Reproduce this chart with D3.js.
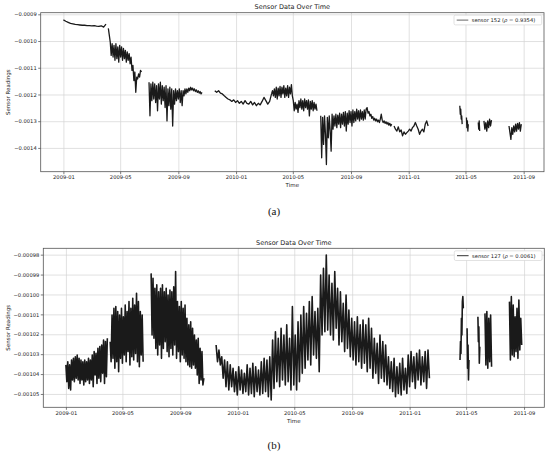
<!DOCTYPE html>
<html>
<head>
<meta charset="utf-8">
<script src="https://cdn.jsdelivr.net/npm/d3@7"></script>
<style>
  body { margin: 0; background: #fff; }
  svg text { font-family: "DejaVu Sans", sans-serif; fill: #222; }
  .caption { font-family: "Liberation Serif", "DejaVu Serif", serif; }
</style>
</head>
<body>
<svg id="chart" width="550" height="456"></svg>
<script>
// Shared time axis
const xTickLabels = ['2009-01', '2009-05', '2009-09', '2010-01', '2010-05', '2010-09', '2011-01', '2011-05', '2011-09'];
const xDomainDays = ['2008-11-14', '2011-10-14'];

// Panel (a): sensor 152
const yTicks152 = [-0.0014, -0.0013, -0.0012, -0.0011, -0.0010, -0.0009];
const yDomain152 = [-0.001489, -0.000894];
const legend152 = ['sensor 152 (', '\u03c1', ' = 0.9354)'];

// Each segment: first date, sampling step in days, readings (gaps between segments)
const sensor152 = [
  { start: '2009-01-01', step: 5, values: [-0.000921, -0.000926, -0.000930, -0.000934, -0.000936, -0.000938, -0.000939, -0.000940, -0.000941, -0.000941, -0.000942, -0.000942, -0.000943, -0.000942, -0.000944, -0.000945, -0.000943, -0.000948, -0.000937] },
  { start: '2009-04-06', step: 2, values: [-0.000953, -0.000978, -0.001003, -0.001054, -0.001010, -0.001060, -0.001016, -0.001072, -0.001010, -0.001066, -0.001022, -0.001079, -0.001016, -0.001060, -0.001022, -0.001072, -0.001028, -0.001066, -0.001035, -0.001079, -0.001041, -0.001072, -0.001047, -0.001085, -0.001060, -0.001110, -0.001091, -0.001148, -0.001116, -0.001192, -0.001135, -0.001142, -0.001123, -0.001135, -0.001110, -0.001116] },
  { start: '2009-07-01', step: 2, values: [-0.001154, -0.001280, -0.001160, -0.001223, -0.001154, -0.001217, -0.001160, -0.001230, -0.001167, -0.001261, -0.001160, -0.001217, -0.001154, -0.001236, -0.001167, -0.001223, -0.001173, -0.001249, -0.001167, -0.001299, -0.001179, -0.001242, -0.001173, -0.001255, -0.001179, -0.001318, -0.001186, -0.001236, -0.001179, -0.001223, -0.001186, -0.001217, -0.001179, -0.001230, -0.001186, -0.001242, -0.001186, -0.001205, -0.001179, -0.001198, -0.001179, -0.001192, -0.001176, -0.001186, -0.001173, -0.001183, -0.001176, -0.001186, -0.001179, -0.001189, -0.001183, -0.001192, -0.001186, -0.001195, -0.001189, -0.001198, -0.001192] },
  { start: '2009-11-17', step: 4, values: [-0.001186, -0.001192, -0.001186, -0.001195, -0.001198, -0.001205, -0.001211, -0.001217, -0.001220, -0.001226, -0.001220, -0.001230, -0.001223, -0.001233, -0.001226, -0.001236, -0.001223, -0.001233, -0.001236, -0.001226, -0.001239, -0.001230, -0.001242, -0.001233, -0.001239, -0.001226, -0.001211, -0.001223, -0.001236, -0.001226, -0.001198] },
  { start: '2010-03-17', step: 2, values: [-0.001198, -0.001186, -0.001205, -0.001179, -0.001211, -0.001173, -0.001217, -0.001176, -0.001205, -0.001170, -0.001211, -0.001173, -0.001198, -0.001167, -0.001211, -0.001176, -0.001205, -0.001167, -0.001211, -0.001173, -0.001198, -0.001163, -0.001205, -0.001223, -0.001261, -0.001230, -0.001255, -0.001236, -0.001267, -0.001223, -0.001249, -0.001217, -0.001255, -0.001223, -0.001261, -0.001217, -0.001249, -0.001223, -0.001255, -0.001220, -0.001280, -0.001226, -0.001255, -0.001223, -0.001261, -0.001230, -0.001255, -0.001236, -0.001261] },
  { start: '2010-06-29', step: 2, values: [-0.001280, -0.001437, -0.001286, -0.001387, -0.001280, -0.001349, -0.001462, -0.001286, -0.001362, -0.001280, -0.001337, -0.001412, -0.001274, -0.001330, -0.001280, -0.001318, -0.001274, -0.001324, -0.001277, -0.001311, -0.001270, -0.001324, -0.001274, -0.001311, -0.001267, -0.001318, -0.001264, -0.001337, -0.001270, -0.001311, -0.001261, -0.001305, -0.001264, -0.001318, -0.001258, -0.001305, -0.001264, -0.001299, -0.001255, -0.001292, -0.001261, -0.001299, -0.001258, -0.001292, -0.001264, -0.001296, -0.001258, -0.001292, -0.001255, -0.001249, -0.001270, -0.001264, -0.001280, -0.001274, -0.001289, -0.001283, -0.001296, -0.001289, -0.001299, -0.001292, -0.001302, -0.001296, -0.001305, -0.001292, -0.001274, -0.001296, -0.001305, -0.001299, -0.001308, -0.001302, -0.001311, -0.001305, -0.001315, -0.001308, -0.001318, -0.001311] },
  { start: '2010-12-01', step: 3, values: [-0.001318, -0.001330, -0.001337, -0.001321, -0.001340, -0.001333, -0.001355, -0.001340, -0.001349, -0.001343, -0.001337, -0.001330, -0.001337, -0.001324, -0.001318, -0.001305, -0.001318, -0.001330, -0.001349, -0.001337, -0.001330, -0.001340, -0.001311, -0.001299, -0.001318] },
  { start: '2011-04-19', step: 1, values: [-0.001242, -0.001274, -0.001255, -0.001292, -0.001280, -0.001311] },
  { start: '2011-05-03', step: 1, values: [-0.001286, -0.001324, -0.001299, -0.001337, -0.001311] },
  { start: '2011-05-28', step: 1, values: [-0.001305, -0.001330, -0.001299, -0.001337] },
  { start: '2011-06-09', step: 2, values: [-0.001299, -0.001330, -0.001305, -0.001337, -0.001299, -0.001324, -0.001292, -0.001318, -0.001296] },
  { start: '2011-08-01', step: 2, values: [-0.001318, -0.001343, -0.001368, -0.001324, -0.001349, -0.001318, -0.001340, -0.001311, -0.001337, -0.001308, -0.001330, -0.001305, -0.001337, -0.001311] }
];

// Panel (b): sensor 127
const yTicks127 = [-0.00105, -0.00104, -0.00103, -0.00102, -0.00101, -0.00100, -0.00099, -0.00098];
const yDomain127 = [-0.0010567, -0.0009768];
const legend127 = ['sensor 127 (', '\u03c1', ' = 0.0061)'];

const sensor127 = [
  { start: '2009-01-01', step: 2, values: [-0.0010354, -0.0010438, -0.0010338, -0.0010472, -0.0010354, -0.0010480, -0.0010329, -0.0010430, -0.0010321, -0.0010438, -0.0010313, -0.0010421, -0.0010304, -0.0010430, -0.0010321, -0.0010447, -0.0010329, -0.0010430, -0.0010338, -0.0010455, -0.0010329, -0.0010438, -0.0010338, -0.0010430, -0.0010321, -0.0010447, -0.0010329, -0.0010430, -0.0010304, -0.0010463, -0.0010287, -0.0010405, -0.0010296, -0.0010447, -0.0010271, -0.0010421, -0.0010262, -0.0010438, -0.0010254, -0.0010396, -0.0010229, -0.0010447, -0.0010237, -0.0010413, -0.0010220] },
  { start: '2009-04-05', step: 2, values: [-0.0010237, -0.0010338, -0.0010103, -0.0010321, -0.0010070, -0.0010371, -0.0010061, -0.0010338, -0.0010086, -0.0010388, -0.0010103, -0.0010321, -0.0010070, -0.0010346, -0.0010112, -0.0010304, -0.0010053, -0.0010338, -0.0010086, -0.0010287, -0.0010036, -0.0010354, -0.0010070, -0.0010313, -0.0010019, -0.0010329, -0.0010053, -0.0010296, -0.0009994, -0.0010338, -0.0010036, -0.0010363, -0.0010086, -0.0010304, -0.0010103, -0.0010338] },
  { start: '2009-07-01', step: 2, values: [-0.0009894, -0.0010204, -0.0009919, -0.0010220, -0.0009969, -0.0010271, -0.0009952, -0.0010304, -0.0009986, -0.0010254, -0.0009969, -0.0010321, -0.0009952, -0.0010271, -0.0009986, -0.0010237, -0.0009969, -0.0010287, -0.0010003, -0.0010313, -0.0009978, -0.0010271, -0.0009986, -0.0010304, -0.0009961, -0.0010254, -0.0009885, -0.0010321, -0.0010036, -0.0010287, -0.0010061, -0.0010338, -0.0010036, -0.0010304, -0.0010070, -0.0010321, -0.0010053, -0.0010338, -0.0010120, -0.0010354, -0.0010153, -0.0010363, -0.0010137, -0.0010371, -0.0010170, -0.0010354, -0.0010204, -0.0010371, -0.0010229, -0.0010405, -0.0010220, -0.0010447, -0.0010271, -0.0010430, -0.0010287, -0.0010455, -0.0010421] },
  { start: '2009-11-16', step: 3, values: [
    -0.0010254, -0.0010338, -0.0010279, -0.0010354, -0.0010313, -0.0010421, -0.0010329, -0.0010463, -0.0010338, -0.0010480,
    -0.0010354, -0.0010463, -0.0010371, -0.0010488, -0.0010388, -0.0010505, -0.0010363, -0.0010480, -0.0010380, -0.0010497,
    -0.0010396, -0.0010488, -0.0010354, -0.0010505, -0.0010371, -0.0010497, -0.0010346, -0.0010514, -0.0010363, -0.0010488,
    -0.0010380, -0.0010505, -0.0010338, -0.0010497, -0.0010321, -0.0010488, -0.0010329, -0.0010514, -0.0010313, -0.0010530,
    -0.0010229, -0.0010472, -0.0010187, -0.0010438, -0.0010220, -0.0010463, -0.0010170, -0.0010430, -0.0010204, -0.0010455,
    -0.0010153, -0.0010438, -0.0010220, -0.0010480, -0.0010061, -0.0010455, -0.0010204, -0.0010480, -0.0010137, -0.0010438,
    -0.0010103, -0.0010396, -0.0010061, -0.0010371, -0.0010095, -0.0010329, -0.0010036, -0.0010354, -0.0010011, -0.0010304,
    -0.0010086, -0.0010321, -0.0010070, -0.0010388, -0.0009902, -0.0010204, -0.0009869, -0.0010187, -0.0009802, -0.0010179,
    -0.0009902, -0.0010204, -0.0009944, -0.0010229, -0.0009885, -0.0010170, -0.0009969, -0.0010254, -0.0009986, -0.0010237,
    -0.0010045, -0.0010287, -0.0010003, -0.0010271, -0.0010078, -0.0010313, -0.0010120, -0.0010329, -0.0010137, -0.0010354,
    -0.0010112, -0.0010338, -0.0010153, -0.0010371, -0.0010128, -0.0010346, -0.0010153, -0.0010388, -0.0010120, -0.0010371,
    -0.0010170, -0.0010421, -0.0010220, -0.0010396, -0.0010246, -0.0010447, -0.0010204, -0.0010421, -0.0010237, -0.0010438,
    -0.0010254, -0.0010455, -0.0010313, -0.0010472, -0.0010338, -0.0010488, -0.0010321, -0.0010514, -0.0010363, -0.0010497,
    -0.0010346, -0.0010505, -0.0010321, -0.0010480, -0.0010371, -0.0010497, -0.0010304, -0.0010463, -0.0010287, -0.0010438,
    -0.0010313, -0.0010472, -0.0010296, -0.0010430, -0.0010279, -0.0010455, -0.0010313, -0.0010438, -0.0010287, -0.0010472,
    -0.0010279, -0.0010421] },
  { start: '2011-04-18', step: 1, values: [-0.0010329, -0.0010237, -0.0010296, -0.0010120, -0.0010204, -0.0010036, -0.0010011, -0.0010070] },
  { start: '2011-05-03', step: 1, values: [-0.0010170, -0.0010371, -0.0010254, -0.0010430, -0.0010329] },
  { start: '2011-05-26', step: 1, values: [-0.0010112, -0.0010237, -0.0010162, -0.0010346, -0.0010262] },
  { start: '2011-06-10', step: 2, values: [-0.0010095, -0.0010354, -0.0010086, -0.0010371, -0.0010120, -0.0010338, -0.0010103, -0.0010363] },
  { start: '2011-08-01', step: 2, values: [-0.0010036, -0.0010329, -0.0010011, -0.0010304, -0.0010053, -0.0010313, -0.0010112, -0.0010287, -0.0010070, -0.0010321, -0.0010028, -0.0010279, -0.0010120, -0.0010254] }
];

const parseDay = d3.timeParse('%Y-%m-%d');
const parseMonth = d3.timeParse('%Y-%m');
const svg = d3.select('#chart');

// Turn a segment into dated points
function expand(seg) {
    const t0 = parseDay(seg.start);
    return seg.values.map((v, i) => ({ date: d3.timeHour.offset(t0, Math.round(i * seg.step * 24)), value: v }));
}

function drawPanel(cfg) {
    const { left, top, right, bottom } = cfg.box;
    const g = svg.append('g');

    const x = d3.scaleTime()
        .domain(xDomainDays.map(parseDay))
        .range([left, right]);
    const y = d3.scaleLinear()
        .domain(cfg.yDomain)
        .range([bottom, top]);
    const xTicks = xTickLabels.map(parseMonth);

    // grid
    g.append('g')
        .attr('transform', `translate(0,${bottom})`)
        .call(d3.axisBottom(x).tickValues(xTicks).tickSize(-(bottom - top)).tickFormat(''))
        .call(s => s.select('.domain').remove())
        .call(s => s.selectAll('line').attr('stroke', '#d4d4d4').attr('stroke-width', 0.7));
    g.append('g')
        .attr('transform', `translate(${left},0)`)
        .call(d3.axisLeft(y).tickValues(cfg.yTicks).tickSize(-(right - left)).tickFormat(''))
        .call(s => s.select('.domain').remove())
        .call(s => s.selectAll('line').attr('stroke', '#d4d4d4').attr('stroke-width', 0.7));

    // data
    const clipId = 'clip-' + cfg.id;
    g.append('clipPath').attr('id', clipId)
        .append('rect').attr('x', left).attr('y', top).attr('width', right - left).attr('height', bottom - top);

    const line = d3.line().x(d => x(d.date)).y(d => y(d.value));
    g.append('g')
        .attr('clip-path', `url(#${clipId})`)
        .selectAll('path')
        .data(cfg.series.map(expand))
        .enter()
        .append('path')
        .attr('d', line)
        .attr('fill', 'none')
        .attr('stroke', '#1a1a1a')
        .attr('stroke-width', cfg.lineWidth)
        .attr('stroke-linejoin', 'round');

    // axes with ticks and labels
    const xAxis = g.append('g')
        .attr('transform', `translate(0,${bottom})`)
        .call(d3.axisBottom(x).tickValues(xTicks).tickFormat(d3.timeFormat('%Y-%m')).tickSize(2.5).tickPadding(1.5));
    const yAxis = g.append('g')
        .attr('transform', `translate(${left},0)`)
        .call(d3.axisLeft(y).tickValues(cfg.yTicks).tickFormat(d3.format(cfg.yFormat)).tickSize(2.5).tickPadding(1.5));
    [xAxis, yAxis].forEach(a => {
        a.select('.domain').remove();
        a.selectAll('line').attr('stroke', '#444').attr('stroke-width', 0.7);
        a.selectAll('text').style('font-size', '5.2px').attr('fill', '#222');
    });

    // spines
    g.append('rect')
        .attr('x', left).attr('y', top)
        .attr('width', right - left).attr('height', bottom - top)
        .attr('fill', 'none').attr('stroke', '#555').attr('stroke-width', 0.8);

    // title and labels
    g.append('text')
        .attr('x', (left + right) / 2).attr('y', top - 3.5)
        .attr('text-anchor', 'middle').style('font-size', '6.5px')
        .text('Sensor Data Over Time');
    g.append('text')
        .attr('x', (left + right) / 2).attr('y', bottom + 15.3)
        .attr('text-anchor', 'middle').style('font-size', '5.5px')
        .text('Time');
    g.append('text')
        .attr('transform', `translate(${cfg.yLabelX},${(top + bottom) / 2}) rotate(-90)`)
        .attr('text-anchor', 'middle').attr('dy', '0.35em').style('font-size', '5.5px')
        .text('Sensor Readings');

    // legend
    const lg = g.append('g').attr('transform', `translate(${right - 90},${top + 2.5})`);
    lg.append('rect')
        .attr('width', 87.7).attr('height', 9.7).attr('rx', 1.5)
        .attr('fill', '#fff').attr('stroke', '#cfcfcf').attr('stroke-width', 0.6);
    lg.append('line')
        .attr('x1', 2.7).attr('x2', 14.3).attr('y1', 4.9).attr('y2', 4.9)
        .attr('stroke', cfg.legendColor).attr('stroke-width', 1);
    const lt = lg.append('text').attr('x', 17.7).attr('y', 6.8).style('font-size', '5.2px');
    lt.append('tspan').text(cfg.legend[0]);
    lt.append('tspan').style('font-style', 'italic').text(cfg.legend[1]);
    lt.append('tspan').text(cfg.legend[2]);

    // caption
    svg.append('text')
        .attr('class', 'caption')
        .attr('x', 274).attr('y', cfg.captionY)
        .attr('text-anchor', 'middle').style('font-size', '11px').style('fill', '#111')
        .text(cfg.caption);
}

drawPanel({
    id: 'a', box: { left: 40.7, top: 12.7, right: 544, bottom: 171.7 },
    yDomain: yDomain152, yTicks: yTicks152, yFormat: '.4f', series: sensor152, lineWidth: 1.3,
    legend: legend152, legendColor: '#666', yLabelX: 7.7, caption: '(a)', captionY: 214.5
});
drawPanel({
    id: 'b', box: { left: 43.3, top: 248.3, right: 544.3, bottom: 407.3 },
    yDomain: yDomain127, yTicks: yTicks127, yFormat: '.5f', series: sensor127, lineWidth: 1.6,
    legend: legend127, legendColor: '#333', yLabelX: 8.3, caption: '(b)', captionY: 448.5
});
</script>
</body>
</html>
